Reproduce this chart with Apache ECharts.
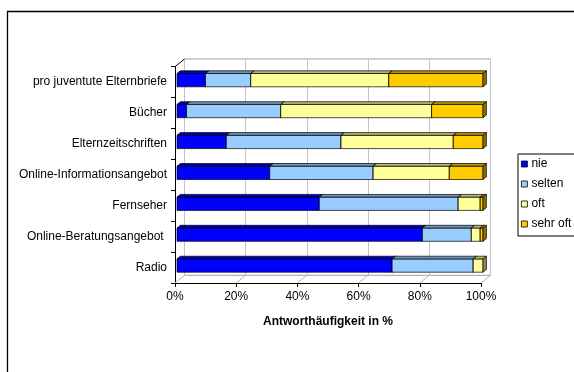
<!DOCTYPE html>
<html>
<head>
<meta charset="utf-8">
<script src="https://cdn.jsdelivr.net/npm/echarts@6/dist/echarts.min.js"></script>
<style>
  html, body { margin: 0; padding: 0; background: #fff; }
  #chart { width: 574px; height: 372px; }
</style>
</head>
<body>
<div id="chart"></div>
<script>
// Media sources and how often parents use them (share of answers, %)
const categories = [
  'pro juventute Elternbriefe',
  'Bücher',
  'Elternzeitschriften',
  'Online-Informationsangebot',
  'Fernseher',
  'Online-Beratungsangebot ',
  'Radio'
];
const nie     = [9.3, 3.1, 16.1, 30.3, 46.5, 80.2, 70.3];
const selten  = [14.8, 30.8, 37.5, 33.8, 45.4, 16.0, 26.5];
const oft     = [45.1, 49.3, 36.7, 24.9, 7.2, 2.9, 3.2];
const sehrOft = [30.8, 16.8, 9.7, 11.0, 0.9, 0.9, 0.0];
const percentTicks = [0, 20, 40, 60, 80, 100];

const seriesNames = ['nie', 'selten', 'oft', 'sehr oft'];
const seriesValues = [nie, selten, oft, sehrOft];
const seriesColors = ['#0000FF', '#99CCFF', '#FFFF99', '#FFCC00'];

// Pseudo-3D geometry: depth of the chart box and of each bar
const DEPTH_X = 9.5, DEPTH_Y = -7.7;
const BAR_OFF_X = 2.0, BAR_OFF_Y = -2.0;
const BAR_DX = 3.4, BAR_DY = -2.7;
const FONT = '"Liberation Sans", Arial, sans-serif';

function shade(hex, k) {
  const n = parseInt(hex.slice(1), 16);
  const r = Math.round(((n >> 16) & 255) * k);
  const g = Math.round(((n >> 8) & 255) * k);
  const b = Math.round((n & 255) * k);
  return 'rgb(' + r + ',' + g + ',' + b + ')';
}

// stacked [start, end, categoryIndex] triples for each answer level
const stacked = seriesValues.map(() => []);
categories.forEach((c, i) => {
  let acc = 0;
  seriesValues.forEach((vals, s) => {
    stacked[s].push([acc, acc + vals[i], i]);
    acc += vals[i];
  });
});

function renderBar(params, api) {
  const start = api.value(0), end = api.value(1), cat = api.value(2);
  if (end - start <= 0) return null;
  const p0 = api.coord([start, cat]);
  const p1 = api.coord([end, cat]);
  const band = api.size([0, 1])[1];
  const h = band * 0.43;
  const x0 = p0[0] + BAR_OFF_X, x1 = p1[0] + BAR_OFF_X;
  const yt = p0[1] + BAR_OFF_Y - h / 2, yb = yt + h;
  const color = api.visual('color');
  const stroke = { stroke: '#000', lineWidth: 0.7 };
  return {
    type: 'group',
    children: [
      { type: 'rect', shape: { x: x0, y: yt, width: x1 - x0, height: h },
        style: Object.assign({ fill: color }, stroke) },
      { type: 'polygon', shape: { points: [[x0, yt], [x0 + BAR_DX, yt + BAR_DY], [x1 + BAR_DX, yt + BAR_DY], [x1, yt]] },
        style: Object.assign({ fill: shade(color, 0.72) }, stroke) },
      { type: 'polygon', shape: { points: [[x1, yt], [x1 + BAR_DX, yt + BAR_DY], [x1 + BAR_DX, yb + BAR_DY], [x1, yb]] },
        style: Object.assign({ fill: shade(color, 0.55) }, stroke) }
    ]
  };
}

// floor lines from each front tick back to the rear wall, plus the left wall's top edge
function renderWalls(params, api) {
  const v = api.value(0);
  const band = api.size([0, 1])[1];
  const bottom = api.coord([v, categories.length - 1]);
  const yb = bottom[1] + band / 2;
  const children = [{
    type: 'line',
    shape: { x1: bottom[0], y1: yb, x2: bottom[0] + DEPTH_X, y2: yb + DEPTH_Y },
    style: { stroke: '#b4b4b4', lineWidth: 1 }
  }];
  if (v === 0) {
    const top = api.coord([0, 0]);
    const yt = top[1] - band / 2;
    children.push({
      type: 'line',
      shape: { x1: top[0], y1: yt, x2: top[0] + DEPTH_X, y2: yt + DEPTH_Y },
      style: { stroke: '#000', lineWidth: 1 }
    });
  }
  return { type: 'group', children: children };
}

const FRONT = { left: 175, top: 66.7, width: 306, height: 216.3 };

const chart = echarts.init(document.getElementById('chart'), null, { renderer: 'canvas' });
chart.setOption({
  backgroundColor: '#fff',
  animation: false,
  textStyle: { fontFamily: FONT },
  graphic: [{
    type: 'rect',
    shape: { x: 7.5, y: 11.5, width: 620, height: 420 },
    style: { fill: 'none', stroke: '#000', lineWidth: 1.3 },
    silent: true
  }],
  grid: [
    Object.assign({ outerBoundsMode: 'none', containLabel: false }, FRONT),
    { outerBoundsMode: 'none', containLabel: false,
      left: FRONT.left + DEPTH_X, top: FRONT.top + DEPTH_Y, width: FRONT.width, height: FRONT.height,
      show: true, borderColor: '#a0a0a0', borderWidth: 1, backgroundColor: 'transparent' }
  ],
  xAxis: [
    {
      gridIndex: 0, type: 'value', min: 0, max: 100, interval: 20,
      axisLine: { show: true, lineStyle: { color: '#000', width: 1 } },
      axisTick: { show: true, length: 4, lineStyle: { color: '#000' } },
      axisLabel: { formatter: '{value}%', color: '#000', fontSize: 12, margin: 8, fontFamily: FONT },
      splitLine: { show: false },
      name: 'Antworthäufigkeit in %', nameLocation: 'middle', nameGap: 33,
      nameTextStyle: { color: '#000', fontSize: 12, fontWeight: 'bold', fontFamily: FONT }
    },
    {
      gridIndex: 1, type: 'value', min: 0, max: 100, interval: 20,
      axisLine: { show: false }, axisTick: { show: false }, axisLabel: { show: false },
      splitLine: { show: true, lineStyle: { color: '#c4c4c4', width: 1 } }
    }
  ],
  yAxis: [
    {
      gridIndex: 0, type: 'category', data: categories, inverse: true,
      axisLine: { show: true, lineStyle: { color: '#000', width: 1 } },
      axisTick: { show: true, length: 4, lineStyle: { color: '#000' } },
      axisLabel: { color: '#000', fontSize: 12, margin: 8, fontFamily: FONT }
    },
    {
      gridIndex: 1, type: 'category', data: categories, inverse: true, show: false
    }
  ],
  legend: {
    data: seriesNames,
    orient: 'vertical',
    left: 518, top: 154,
    icon: 'rect',
    itemWidth: 6, itemHeight: 6, itemGap: 6,
    padding: [3, 12, 5, 3],
    borderColor: '#000', borderWidth: 1,
    itemStyle: { borderColor: '#000', borderWidth: 0.8 },
    textStyle: { color: '#000', fontSize: 12, lineHeight: 14, fontFamily: FONT, padding: [0, 0, 0, -1] }
  },
  series: [
    {
      type: 'custom', name: 'walls', xAxisIndex: 0, yAxisIndex: 0, silent: true, z: 1,
      data: percentTicks.map(v => [v, 0]),
      encode: { x: 0, y: 1 },
      renderItem: renderWalls
    }
  ].concat(seriesNames.map((name, s) => ({
    type: 'custom', name: name, xAxisIndex: 0, yAxisIndex: 0, z: 3,
    itemStyle: { color: seriesColors[s] },
    data: stacked[s],
    encode: { x: [0, 1], y: 2 },
    renderItem: renderBar
  })))
});
</script>
</body>
</html>
